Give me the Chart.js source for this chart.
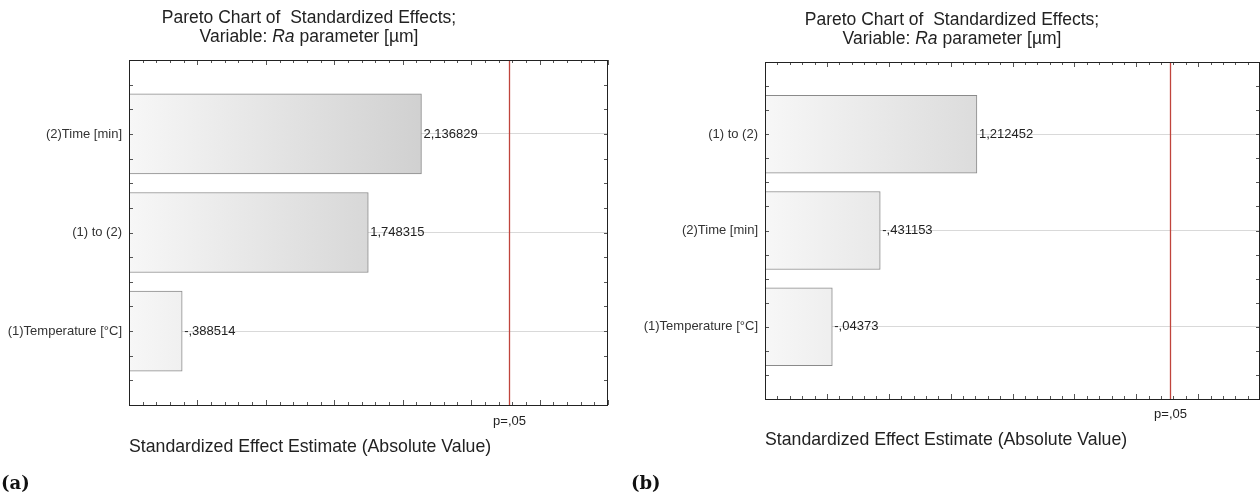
<!DOCTYPE html>
<html>
<head>
<meta charset="utf-8">
<script src="https://cdn.jsdelivr.net/npm/chart.js@4.4.0/dist/chart.umd.min.js"></script>
<style>
  html, body { margin: 0; padding: 0; background: #fff; }
  #wrap { position: relative; width: 1260px; height: 496px; overflow: hidden; }
  canvas { position: absolute; top: 0; }
  #chartA { left: 0; }
  #chartB { left: 630px; }
  .tag { position: absolute; top: 473px; font: bold 18px "DejaVu Serif", serif; color: #111; line-height: 20px; }
</style>
</head>
<body>
<div id="wrap">
  <canvas id="chartA" width="630" height="496"></canvas>
  <canvas id="chartB" width="630" height="496"></canvas>
  <div class="tag" style="left:1px">(a)</div>
  <div class="tag" style="left:631px">(b)</div>
</div>
<script>
// chart (a)
const labelsA = ['(2)Time [min]', '(1) to (2)', '(1)Temperature [°C]'];
const effectsA = [2.136829, 1.748315, -0.388514];
const rangeA = [0, 3.5];

// chart (b)
const labelsB = ['(1) to (2)', '(2)Time [min]', '(1)Temperature [°C]'];
const effectsB = [1.212452, -0.431153, -0.04373];
const rangeB = [-0.5, 3.5];

// t critical for p=,05
const tCritical = 2.776445;
const pLabel = 'p=,05';
const titleLine1 = 'Pareto Chart of  Standardized Effects;';
const titleLine2 = [['Variable: ', ''], ['Ra', 'italic '], [' parameter [µm]', '']];
const xTitle = 'Standardized Effect Estimate (Absolute Value)';

const FONT = '"Liberation Sans", Arial, sans-serif';
Chart.defaults.font.family = FONT;

// Statistica style numbers: 2,136829  -,388514
function statFmt(v) {
    let s = v.toFixed(6).replace(/0+$/, '').replace(/\.$/, '');
    s = s.replace(/^(-?)0\./, '$1.');
    return s.replace('.', ',');
}

function barFill(ctx) {
    const a = ctx.chart.chartArea;
    if (!a) return '#eeeeee';
    const g = ctx.chart.ctx.createLinearGradient(a.left, 0, a.right, 0);
    g.addColorStop(0, '#f7f7f7');
    g.addColorStop(1, '#b8b8b8');
    return g;
}

const paretoDeco = {
    id: 'paretoDeco',
    afterDatasetsDraw(chart, args, opts) {
        const { ctx, chartArea: a, scales: { x } } = chart;
        ctx.save();
        // value labels
        ctx.font = '13px ' + FONT;
        ctx.fillStyle = '#222';
        ctx.textAlign = 'left';
        ctx.textBaseline = 'middle';
        chart.getDatasetMeta(0).data.forEach((bar, i) => {
            ctx.fillText(statFmt(opts.values[i]), bar.x + 2, bar.y);
        });
        // p=,05 line
        const px = Math.round(x.getPixelForValue(opts.crit)) + 0.5;
        ctx.strokeStyle = '#c0443c';
        ctx.lineWidth = 1.3;
        ctx.beginPath();
        ctx.moveTo(px, a.top);
        ctx.lineTo(px, a.bottom);
        ctx.stroke();
        ctx.textAlign = 'center';
        ctx.fillText(opts.pText, px, a.bottom + opts.pDy);
        ctx.restore();
    },
    afterDraw(chart, args, opts) {
        const { ctx, chartArea: a, scales: { x, y } } = chart;
        ctx.save();
        ctx.strokeStyle = '#555';
        ctx.lineWidth = 1;
        ctx.beginPath();
        const n = Math.round((x.max - x.min) / 0.1);
        for (let i = 0; i <= n; i++) {
            const px = Math.round(x.getPixelForValue(x.min + i * 0.1)) + 0.5;
            const len = i % 5 === 0 ? 5 : 3;
            ctx.moveTo(px, a.bottom); ctx.lineTo(px, a.bottom - len);
            ctx.moveTo(px, a.top); ctx.lineTo(px, a.top + len);
        }
        y.ticks.forEach(t => {
            const py = Math.round(y.getPixelForValue(t.value)) + 0.5;
            ctx.moveTo(a.left, py); ctx.lineTo(a.left + 4, py);
            ctx.moveTo(a.right, py); ctx.lineTo(a.right - 4, py);
        });
        ctx.stroke();
        ctx.strokeStyle = '#222';
        ctx.strokeRect(Math.round(a.left) + 0.5, Math.round(a.top) + 0.5,
            Math.round(a.right - a.left) - 1, Math.round(a.bottom - a.top));

        // title, two lines, "Ra" in italic
        ctx.fillStyle = '#222';
        ctx.textBaseline = 'middle';
        ctx.font = '17.5px ' + FONT;
        ctx.textAlign = 'center';
        ctx.fillText(titleLine1, opts.titleX, opts.titleY[0]);
        let w = 0;
        titleLine2.forEach(([t, st]) => { ctx.font = st + '17.5px ' + FONT; w += ctx.measureText(t).width; });
        let tx = opts.titleX - w / 2;
        ctx.textAlign = 'left';
        titleLine2.forEach(([t, st]) => {
            ctx.font = st + '17.5px ' + FONT;
            ctx.fillText(t, tx, opts.titleY[1]);
            tx += ctx.measureText(t).width;
        });
        ctx.restore();
    }
};

function pareto(id, labels, effects, range, box) {
    return new Chart(document.getElementById(id), {
        type: 'bar',
        data: {
            datasets: [{
                data: effects.map((v, i) => ({ x: Math.abs(v), y: i })),
                base: range[0],
                backgroundColor: barFill,
                borderColor: '#8a8a8a',
                borderWidth: 1,
                barThickness: box.barH,
            }],
        },
        options: {
            indexAxis: 'y',
            responsive: false,
            animation: false,
            layout: { padding: { top: box.top, right: 630 - box.right, left: 0, bottom: 0 } },
            scales: {
                x: {
                    type: 'linear',
                    min: range[0],
                    max: range[1],
                    ticks: { display: false, stepSize: 0.5 },
                    grid: { display: false },
                    border: { display: false },
                    title: {
                        display: true,
                        text: xTitle,
                        align: 'start',
                        color: '#222',
                        font: { size: 17.7 },
                        padding: { top: 0, bottom: box.titlePad },
                    },
                    afterFit: (s) => { s.height = 496 - box.bottom; },
                },
                y: {
                    type: 'linear',
                    reverse: true,
                    offset: false,
                    min: -0.75,
                    max: labels.length - 0.25,
                    ticks: {
                        stepSize: 0.25,
                        autoSkip: false,
                        padding: 7,
                        color: '#333',
                        font: { size: 13 },
                        callback: (v) => (Number.isInteger(v) ? labels[v] : ''),
                    },
                    grid: {
                        offset: false,
                        drawTicks: false,
                        color: (c) => (c.tick && Number.isInteger(c.tick.value) ? '#d9d9d9' : 'rgba(0,0,0,0)'),
                    },
                    border: { display: false },
                    afterFit: (s) => { s.width = box.left; },
                },
            },
            plugins: {
                legend: { display: false },
                tooltip: { enabled: false },
                paretoDeco: {
                    values: effects,
                    crit: tCritical,
                    pText: pLabel,
                    pDy: box.pDy,
                    titleX: box.titleX,
                    titleY: box.titleY,
                },
            },
        },
        plugins: [paretoDeco],
    });
}

pareto('chartA', labelsA, effectsA, rangeA,
    { left: 129, right: 608, top: 60, bottom: 405, barH: 80, titlePad: 38, pDy: 16, titleX: 309, titleY: [18, 37] });
pareto('chartB', labelsB, effectsB, rangeB,
    { left: 135, right: 630, top: 62, bottom: 399, barH: 78, titlePad: 45, pDy: 15, titleX: 322, titleY: [20, 39] });
</script>
</body>
</html>
